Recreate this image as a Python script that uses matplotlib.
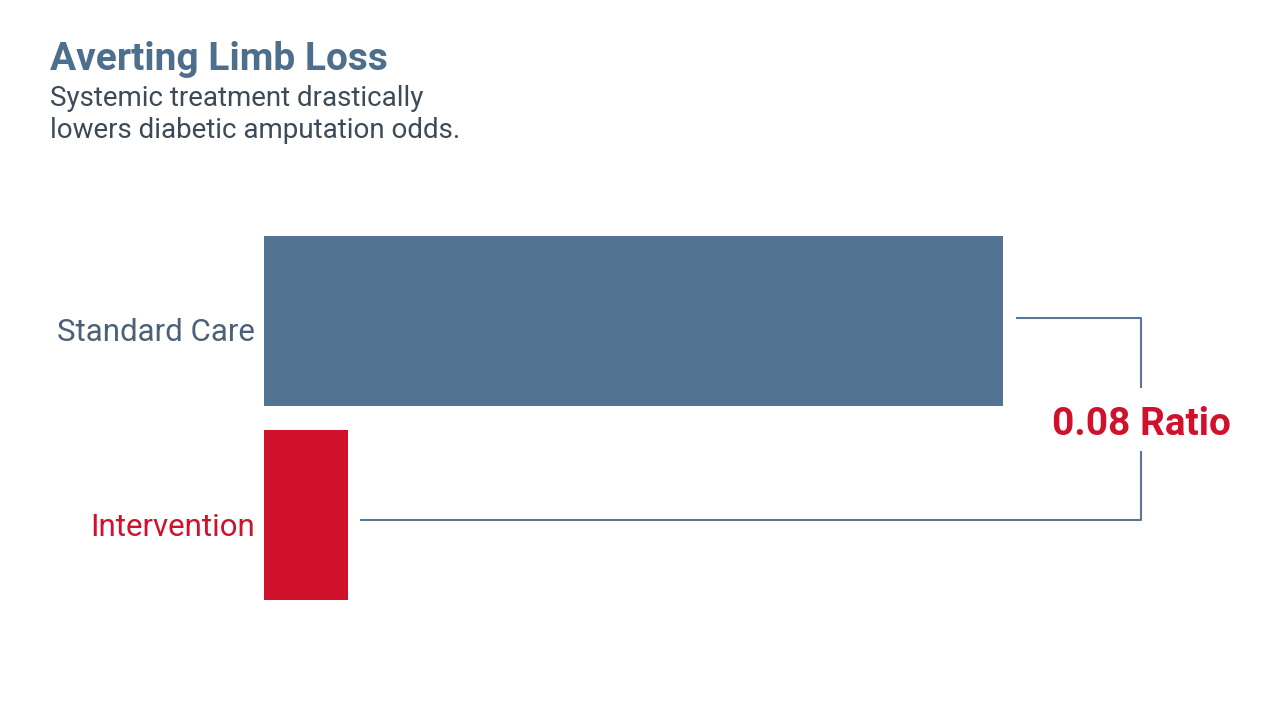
import matplotlib.pyplot as plt

plt.rcParams['font.family'] = ['Roboto', 'DejaVu Sans']

# data
categories = ['Intervention', 'Standard Care']
values = [0.114, 1.0]
bar_colors = ['#d0112b', '#527392']
label_colors = ['#d0112b', '#4a6178']
ratio_label = '0.08 Ratio'

title = 'Averting Limb Loss'
subtitle_lines = ['Systemic treatment drastically', 'lowers diabetic amputation odds.']

fig = plt.figure(figsize=(12.8, 7.14), dpi=100)
fig.patch.set_facecolor('white')

ax = fig.add_axes([264 / 1280, 0.1146, 1 - 264 / 1280, 0.5993])
ypos = list(range(len(categories)))
ax.barh(ypos, values, height=0.874, color=bar_colors)
ax.set_xlim(0, 1016 / 739)
ax.set_ylim(-0.6, 1.6)
ax.axis('off')

for y, cat, col in zip(ypos, categories, label_colors):
    ax.annotate(cat, xy=(0, y - 0.06), xytext=(-6.5, 0), textcoords='offset points',
                ha='right', va='center', fontsize=22.5, color=col)

# bracket linking the two bars
line_col = '#5a7896'
bx = 1.187
top_y = 1 + 0.015
bot_y = 0 - 0.023
ax.plot([values[1] + 0.0176, bx, bx], [top_y, top_y, 0.655], color=line_col, lw=1.5,
        solid_capstyle='butt')
ax.plot([bx, bx, values[0] + 0.016], [0.33, bot_y, bot_y], color=line_col, lw=1.5,
        solid_capstyle='butt')
ax.text(bx, 0.47, ratio_label, ha='center', va='center', fontsize=28,
        fontweight='bold', color='#d0112b')

fig.text(50 / 1280, 1 - 59 / 714, title, ha='left', va='center', fontsize=28,
         fontweight='bold', color='#4e6e8e')
for i, line in enumerate(subtitle_lines):
    fig.text(50 / 1280, 1 - (98 + 32 * i) / 714, line, ha='left', va='center',
             fontsize=20, color='#3d4a57')

fig.savefig('out.png', dpi=100, facecolor='white')
